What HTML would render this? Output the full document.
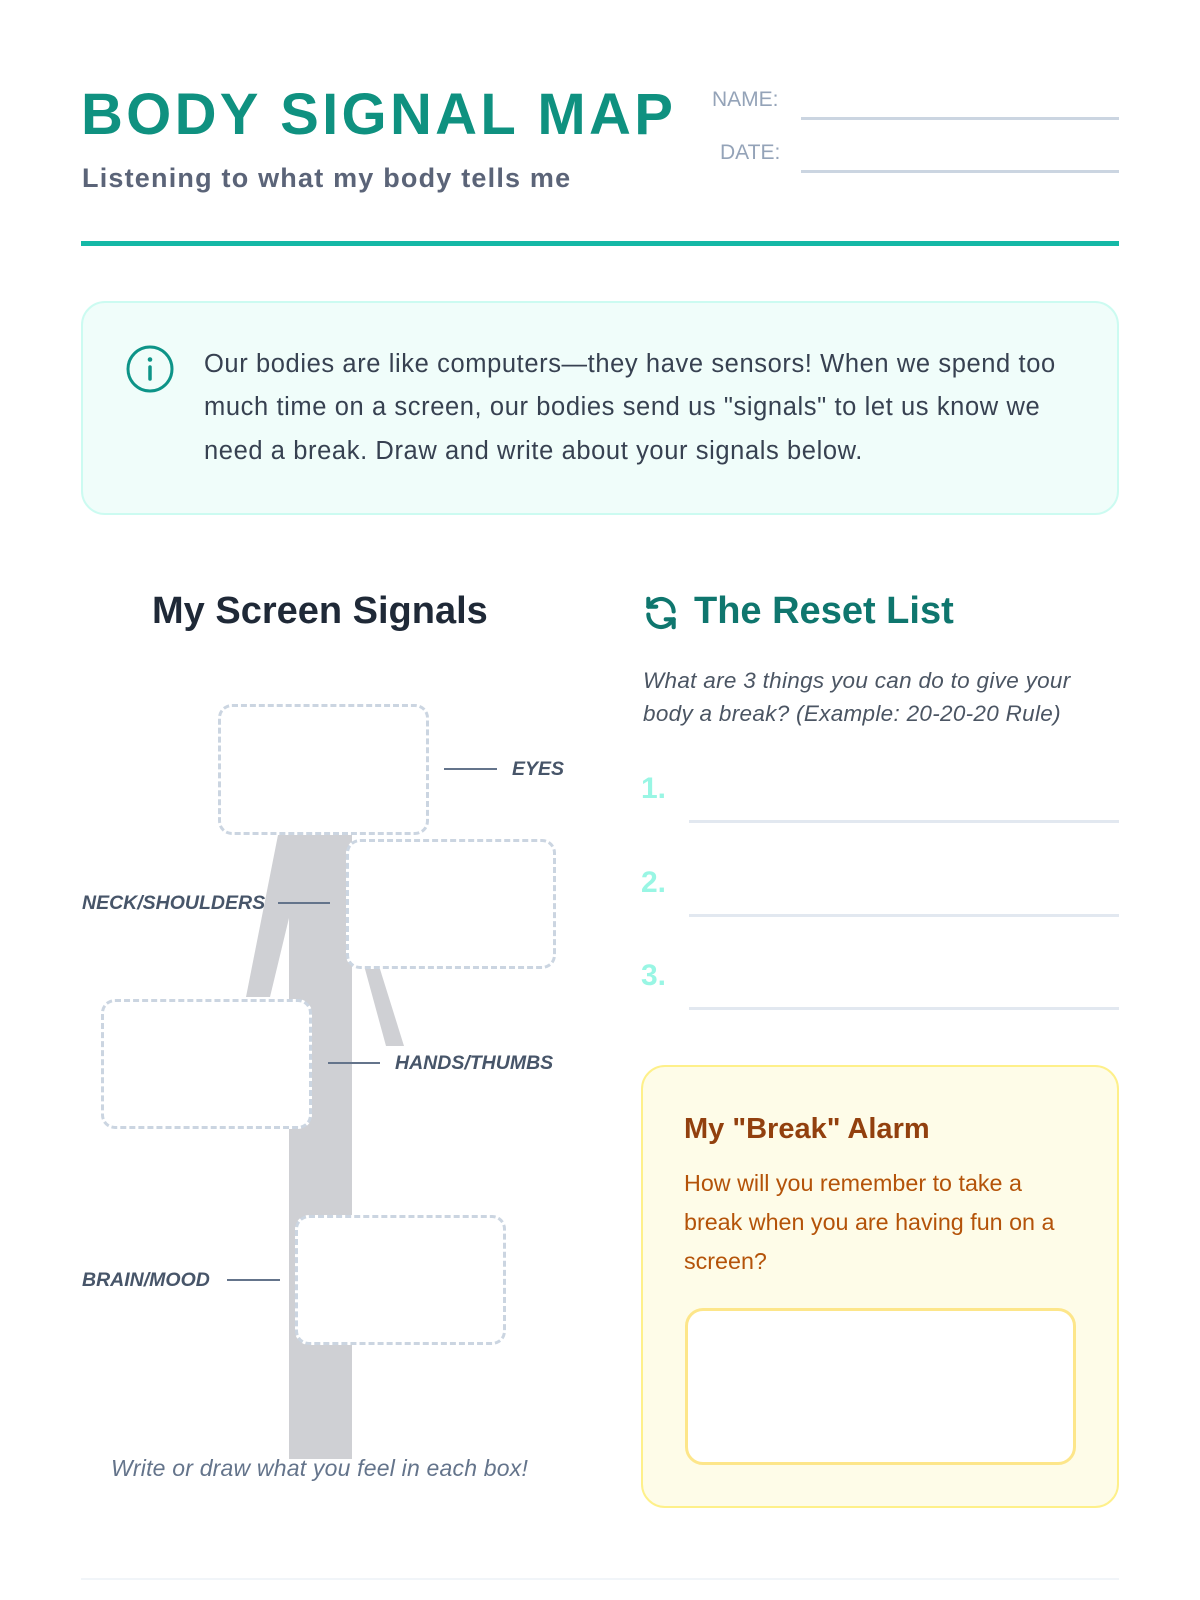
<!DOCTYPE html>
<html><head><meta charset="utf-8"><style>
*{margin:0;padding:0;box-sizing:border-box}
body{width:1200px;height:1600px;background:#fff;position:relative;overflow:hidden;font-family:"Liberation Sans",sans-serif}
.a{position:absolute;white-space:nowrap}
.dash{position:absolute;border:3px dashed #cbd5e1;border-radius:14px;background:#fff}
.lab{position:absolute;font-style:italic;font-weight:600;font-size:19.5px;color:#475569;white-space:nowrap;line-height:20px}
.ln{position:absolute;height:2px;background:#64748b}
.rl{position:absolute;left:689px;width:430px;height:3px;background:#e2e8f0}
.num{position:absolute;left:641px;font-size:30px;font-weight:600;color:#99f6e4;line-height:30px}
</style></head><body>
<div class="a" style="left:81px;top:84px;font-size:58px;font-weight:900;color:#0f9180;letter-spacing:3.3px;line-height:62px">BODY SIGNAL MAP</div>
<div class="a" style="left:82px;top:163px;font-size:27px;font-weight:600;color:#5b6478;letter-spacing:1.2px">Listening to what my body tells me</div>
<div class="a" style="left:712px;top:88px;font-size:21px;color:#94a3b8">NAME:</div>
<div class="a" style="left:720px;top:141px;font-size:21px;color:#94a3b8">DATE:</div>
<div class="a" style="left:801px;top:117px;width:318px;height:3px;background:#cbd5e1"></div>
<div class="a" style="left:801px;top:170px;width:318px;height:3px;background:#cbd5e1"></div>
<div class="a" style="left:81px;top:241px;width:1038px;height:5px;background:#14b8a6"></div>

<div class="a" style="left:81px;top:301px;width:1038px;height:214px;background:#f0fdfa;border:2px solid #ccfbf1;border-radius:24px"></div>
<svg class="a" style="left:124px;top:343px" width="52" height="52" viewBox="0 0 52 52"><circle cx="26" cy="26" r="22" fill="none" stroke="#0d9488" stroke-width="3"/><line x1="26" y1="24" x2="26" y2="36" stroke="#0d9488" stroke-width="3.5" stroke-linecap="round"/><circle cx="26" cy="16.5" r="2.3" fill="#0d9488"/></svg>
<div class="a" style="left:204px;top:343px;font-size:25.5px;letter-spacing:0.6px;color:#374151;line-height:43.4px">Our bodies are like computers—they have sensors! When we spend too<br>much time on a screen, our bodies send us "signals" to let us know we<br>need a break. Draw and write about your signals below.</div>

<div class="a" style="left:152px;top:590px;font-size:38px;font-weight:600;color:#1f2937">My Screen Signals</div>
<svg class="a" style="left:642px;top:594px" width="38" height="38" viewBox="0 0 24 24" fill="none" stroke="#0f766e" stroke-width="2.6" stroke-linecap="round" stroke-linejoin="round"><path d="M20 11A8 8 0 0 0 5.5 6.5L4 8"/><path d="M4 3v5h5"/><path d="M4 13a8 8 0 0 0 14.5 4.5L20 16"/><path d="M20 21v-5h-5"/></svg>
<div class="a" style="left:694px;top:590px;font-size:38px;font-weight:700;color:#0f766e">The Reset List</div>
<div class="a" style="left:643px;top:664px;font-size:22.5px;letter-spacing:0.3px;font-style:italic;color:#4b5563;line-height:33px">What are 3 things you can do to give your<br>body a break? (Example: 20-20-20 Rule)</div>
<div class="num" style="top:774px">1.</div><div class="rl" style="top:820px"></div>
<div class="num" style="top:868px">2.</div><div class="rl" style="top:914px"></div>
<div class="num" style="top:961px">3.</div><div class="rl" style="top:1007px"></div>

<div class="a" style="left:641px;top:1065px;width:478px;height:443px;background:#fefce8;border:2px solid #fef08a;border-radius:24px"></div>
<div class="a" style="left:684px;top:1113px;font-size:29px;font-weight:600;color:#92400e">My "Break" Alarm</div>
<div class="a" style="left:684px;top:1164px;font-size:23.3px;color:#b45309;line-height:38.8px">How will you remember to take a<br>break when you are having fun on a<br>screen?</div>
<div class="a" style="left:685px;top:1308px;width:391px;height:157px;background:#fff;border:3px solid #fde68a;border-radius:18px"></div>

<svg class="a" style="left:0;top:0" width="600" height="1600">
<rect x="289" y="835" width="63" height="624" fill="#cfd0d4"/>
<polygon points="278,835 296,835 289,918 270,997 246,997" fill="#cfd0d4"/>
<rect x="289" y="835" width="10" height="90" fill="#cfd0d4"/>
<polygon points="365,969 380,969 404,1046 386,1046" fill="#cfd0d4"/>
</svg>
<div class="dash" style="left:218px;top:704px;width:211px;height:131px"></div>
<div class="dash" style="left:346px;top:839px;width:210px;height:130px"></div>
<div class="dash" style="left:101px;top:999px;width:211px;height:130px"></div>
<div class="dash" style="left:295px;top:1215px;width:211px;height:130px"></div>
<div class="ln" style="left:444px;top:768px;width:53px"></div><div class="lab" style="left:512px;top:759px">EYES</div>
<div class="lab" style="left:82px;top:893px">NECK/SHOULDERS</div><div class="ln" style="left:278px;top:902px;width:52px"></div>
<div class="ln" style="left:328px;top:1062px;width:52px"></div><div class="lab" style="left:395px;top:1053px">HANDS/THUMBS</div>
<div class="lab" style="left:82px;top:1270px">BRAIN/MOOD</div><div class="ln" style="left:227px;top:1279px;width:53px"></div>
<div class="a" style="left:111px;top:1455px;font-size:23px;letter-spacing:0.2px;font-style:italic;color:#64748b">Write or draw what you feel in each box!</div>
<div class="a" style="left:81px;top:1578px;width:1038px;height:2px;background:#f1f5f9"></div>
</body></html>
